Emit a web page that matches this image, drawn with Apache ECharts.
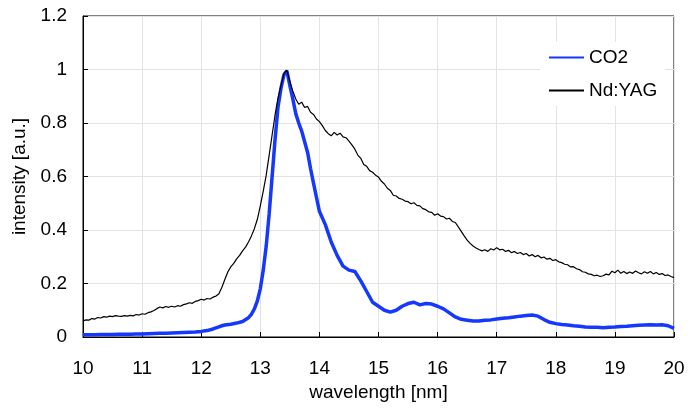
<!DOCTYPE html>
<html>
<head>
<meta charset="utf-8">
<script src="https://cdn.jsdelivr.net/npm/echarts@6/dist/echarts.min.js"></script>
<style>
  html, body { margin: 0; padding: 0; background: #fff; }
  #chart { width: 697px; height: 408px; }
</style>
</head>
<body>
<div id="chart"></div>
<script>
// CO2-laser plasma spectrum: wavelength [nm] and normalised intensity
const co2Wavelength = [
  10.0, 10.1, 10.2, 10.3, 10.4, 10.5, 10.6, 10.7, 10.8, 10.9,
  11.0, 11.1, 11.2, 11.3, 11.4, 11.5, 11.6, 11.7, 11.8, 11.9,
  12.0, 12.1, 12.2, 12.3, 12.35, 12.4, 12.5, 12.6, 12.7, 12.8,
  12.85, 12.9, 12.95, 13.0, 13.05, 13.1, 13.15, 13.2, 13.25, 13.3,
  13.35, 13.4, 13.45, 13.5, 13.55, 13.6, 13.65, 13.7, 13.75, 13.8,
  13.85, 13.9, 14.0, 14.1, 14.2, 14.3, 14.4, 14.5, 14.6, 14.7,
  14.8, 14.9, 15.0, 15.1, 15.2, 15.3, 15.4, 15.5, 15.6, 15.7,
  15.8, 15.9, 16.0, 16.1, 16.2, 16.3, 16.4, 16.5, 16.6, 16.7,
  16.8, 16.9, 17.0, 17.1, 17.2, 17.3, 17.4, 17.5, 17.6, 17.7,
  17.8, 17.9, 18.0, 18.1, 18.2, 18.3, 18.4, 18.5, 18.6, 18.7,
  18.8, 18.9, 19.0, 19.1, 19.2, 19.3, 19.4, 19.5, 19.6, 19.7,
  19.8, 19.9, 20.0
];
const co2 = [
  0.008, 0.008, 0.008, 0.009, 0.009, 0.009, 0.010, 0.010, 0.010, 0.011,
  0.011, 0.012, 0.013, 0.014, 0.014, 0.015, 0.016, 0.017, 0.018, 0.019,
  0.021, 0.024, 0.030, 0.038, 0.042, 0.045, 0.048, 0.052, 0.058, 0.072,
  0.085, 0.105, 0.135, 0.180, 0.250, 0.340, 0.460, 0.600, 0.740, 0.860,
  0.930, 0.980, 0.995, 0.940, 0.890, 0.835, 0.800, 0.770, 0.730, 0.690,
  0.630, 0.575, 0.470, 0.420, 0.355, 0.305, 0.265, 0.250, 0.245, 0.210,
  0.170, 0.130, 0.115, 0.100, 0.093, 0.100, 0.115, 0.125, 0.130, 0.120,
  0.125, 0.123, 0.115, 0.105, 0.090, 0.075, 0.066, 0.063, 0.060, 0.060,
  0.063, 0.064, 0.067, 0.070, 0.072, 0.075, 0.078, 0.080, 0.082, 0.078,
  0.065, 0.055, 0.050, 0.047, 0.045, 0.042, 0.040, 0.037, 0.036, 0.036,
  0.035, 0.036, 0.037, 0.039, 0.040, 0.042, 0.044, 0.045, 0.046, 0.045,
  0.046, 0.042, 0.032
];

// Nd:YAG-laser plasma spectrum, sampled more densely (noisy trace)
const ndWavelength = [
  10.00, 10.05, 10.10, 10.15, 10.20, 10.25, 10.30, 10.35, 10.40, 10.45,
  10.50, 10.55, 10.60, 10.65, 10.70, 10.75, 10.80, 10.85, 10.90, 10.95,
  11.00, 11.05, 11.10, 11.15, 11.20, 11.25, 11.30, 11.35, 11.40, 11.45,
  11.50, 11.55, 11.60, 11.65, 11.70, 11.75, 11.80, 11.85, 11.90, 11.95,
  12.00, 12.05, 12.10, 12.15, 12.20, 12.25, 12.30, 12.35, 12.40, 12.45,
  12.50, 12.55, 12.60, 12.65, 12.70, 12.75, 12.80, 12.85, 12.90, 12.95,
  13.00, 13.05, 13.10, 13.15, 13.20, 13.25, 13.30, 13.35, 13.40, 13.45,
  13.50, 13.55, 13.60, 13.65, 13.70, 13.75, 13.80, 13.85, 13.90, 13.95,
  14.00, 14.05, 14.10, 14.15, 14.20, 14.25, 14.30, 14.35, 14.40, 14.45,
  14.50, 14.55, 14.60, 14.65, 14.70, 14.75, 14.80, 14.85, 14.90, 14.95,
  15.00, 15.05, 15.10, 15.15, 15.20, 15.25, 15.30, 15.35, 15.40, 15.45,
  15.50, 15.55, 15.60, 15.65, 15.70, 15.75, 15.80, 15.85, 15.90, 15.95,
  16.00, 16.05, 16.10, 16.15, 16.20, 16.25, 16.30, 16.35, 16.40, 16.45,
  16.50, 16.55, 16.60, 16.65, 16.70, 16.75, 16.80, 16.85, 16.90, 16.95,
  17.00, 17.05, 17.10, 17.15, 17.20, 17.25, 17.30, 17.35, 17.40, 17.45,
  17.50, 17.55, 17.60, 17.65, 17.70, 17.75, 17.80, 17.85, 17.90, 17.95,
  18.00, 18.05, 18.10, 18.15, 18.20, 18.25, 18.30, 18.35, 18.40, 18.45,
  18.50, 18.55, 18.60, 18.65, 18.70, 18.75, 18.80, 18.85, 18.90, 18.95,
  19.00, 19.05, 19.10, 19.15, 19.20, 19.25, 19.30, 19.35, 19.40, 19.45,
  19.50, 19.55, 19.60, 19.65, 19.70, 19.75, 19.80, 19.85, 19.90, 19.95,
  20.00
];
const ndyag = [
  0.060, 0.064, 0.063, 0.069, 0.067, 0.073, 0.071, 0.076, 0.074, 0.078,
  0.076, 0.080, 0.078, 0.077, 0.080, 0.078, 0.081, 0.079, 0.084, 0.082,
  0.087, 0.085, 0.091, 0.094, 0.099, 0.106, 0.112, 0.109, 0.114, 0.111,
  0.115, 0.112, 0.117, 0.115, 0.121, 0.124, 0.128, 0.126, 0.133, 0.136,
  0.141, 0.138, 0.144, 0.142, 0.149, 0.153, 0.162, 0.186, 0.215, 0.243,
  0.262, 0.275, 0.292, 0.305, 0.322, 0.336, 0.355, 0.378, 0.405, 0.440,
  0.490, 0.545, 0.605, 0.680, 0.755, 0.830, 0.895, 0.940, 0.985, 0.998,
  0.955, 0.920, 0.890, 0.870, 0.878, 0.858, 0.862, 0.840, 0.832, 0.815,
  0.805, 0.790, 0.772, 0.760, 0.752, 0.765, 0.755, 0.762, 0.748, 0.745,
  0.732, 0.718, 0.702, 0.680, 0.668, 0.645, 0.638, 0.622, 0.616, 0.605,
  0.598, 0.582, 0.572, 0.556, 0.548, 0.530, 0.527, 0.518, 0.515, 0.508,
  0.506, 0.498, 0.502, 0.492, 0.490, 0.480, 0.476, 0.468, 0.466, 0.455,
  0.461, 0.452, 0.450, 0.441, 0.444, 0.432, 0.428, 0.412, 0.395, 0.378,
  0.362, 0.350, 0.340, 0.333, 0.327, 0.322, 0.326, 0.320, 0.330, 0.325,
  0.334, 0.326, 0.328, 0.320, 0.324, 0.315, 0.320, 0.312, 0.316, 0.308,
  0.312, 0.303, 0.308, 0.300, 0.305, 0.296, 0.299, 0.291, 0.294, 0.286,
  0.289, 0.281, 0.278, 0.272, 0.270, 0.262, 0.263, 0.255, 0.252, 0.244,
  0.242, 0.236, 0.234, 0.229, 0.231, 0.226, 0.229, 0.235, 0.232, 0.246,
  0.240, 0.250, 0.238, 0.245, 0.237, 0.243, 0.238, 0.247, 0.240, 0.236,
  0.244, 0.238, 0.245, 0.236, 0.241, 0.234, 0.237, 0.230, 0.232, 0.226,
  0.222
];

const seriesNames = ['CO2', 'Nd:YAG'];
const xTicks = { min: 10, max: 20, step: 1 };
const yTicks = { min: 0, max: 1.2, step: 0.2 };

const pairs = (xs, ys) => xs.map((x, i) => [x, ys[i]]);

const FONT = 'Liberation Sans, Arial, Helvetica, sans-serif';
const FS = 19;
const chart = echarts.init(document.getElementById('chart'), null, { renderer: 'canvas' });

chart.setOption({
  animation: false,
  backgroundColor: '#ffffff',
  textStyle: { fontFamily: FONT, color: '#000' },
  grid: {
    left: 83, right: 23, top: 16, bottom: 71,
    show: true, borderColor: '#000', borderWidth: 1, backgroundColor: 'transparent'
  },
  legend: {
    orient: 'vertical',
    left: 540, top: 42,
    backgroundColor: '#ffffff',
    padding: [6, 8, 6, 8],
    itemWidth: 35, itemHeight: 14, itemGap: 14,
    // line-only keys: hide the marker the line series adds to its legend icon
    itemStyle: { color: 'transparent', borderColor: 'transparent', borderWidth: 0, opacity: 0 },
    textStyle: { fontSize: FS, color: '#000', fontFamily: FONT },
    data: seriesNames
  },
  xAxis: {
    type: 'value',
    min: xTicks.min, max: xTicks.max, interval: xTicks.step,
    name: 'wavelength [nm]',
    nameLocation: 'middle',
    nameGap: 41,
    nameTextStyle: { fontSize: FS, color: '#000', fontFamily: FONT },
    axisLine: { show: true, lineStyle: { color: '#000', width: 1 } },
    axisTick: { show: true, inside: true, length: 5, lineStyle: { color: '#000' } },
    axisLabel: { fontSize: FS, color: '#000', margin: 22, fontFamily: FONT },
    splitLine: { show: true, lineStyle: { color: '#e3e3e3', width: 1 } }
  },
  yAxis: {
    type: 'value',
    min: yTicks.min, max: yTicks.max, interval: yTicks.step,
    name: 'intensity [a.u.]',
    nameLocation: 'middle',
    nameGap: 52,
    nameTextStyle: { fontSize: FS, color: '#000', fontFamily: FONT },
    axisLine: { show: true, lineStyle: { color: '#000', width: 1 } },
    axisTick: { show: true, inside: true, length: 5, lineStyle: { color: '#000' } },
    axisLabel: { fontSize: FS, color: '#000', margin: 16, fontFamily: FONT },
    splitLine: { show: true, lineStyle: { color: '#e3e3e3', width: 1 } }
  },
  series: [
    {
      name: seriesNames[0],
      type: 'line',
      data: pairs(co2Wavelength, co2),
      symbol: 'none',
      lineStyle: { color: '#1538ff', width: 3.5 },
      itemStyle: { color: '#1538ff' },
      z: 2
    },
    {
      name: seriesNames[1],
      type: 'line',
      data: pairs(ndWavelength, ndyag),
      symbol: 'none',
      lineStyle: { color: '#000', width: 1.2 },
      itemStyle: { color: '#000' },
      z: 3
    }
  ]
});
</script>
</body>
</html>
